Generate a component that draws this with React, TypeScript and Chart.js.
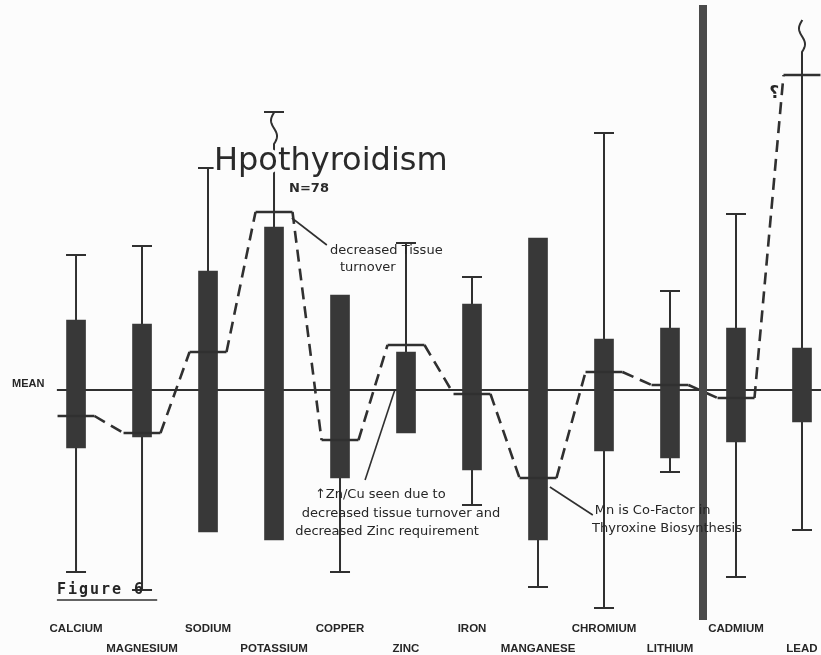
import React, { useEffect, useRef } from "react";
import { Chart, registerables } from "chart.js";

Chart.register(...registerables);

// ---- data (relative deviation units; 0 = MEAN) ----
const categories = [
  "CALCIUM", "MAGNESIUM", "SODIUM", "POTASSIUM", "COPPER", "ZINC",
  "IRON", "MANGANESE", "CHROMIUM", "LITHIUM", "CADMIUM", "LEAD",
];
const barHigh = [14, 13.2, 23.8, 32.6, 19, 7.6, 17.2, 30.4, 10.2, 12.4, 12.4, 8.4];
const barLow = [-11.6, -9.4, -28.4, -30, -17.6, -8.6, -16, -30, -12.2, -13.6, -10.4, -6.4];
const whiskerHigh = [27, 28.8, 44.4, 55.6, null, 29.4, 22.6, null, 51.4, 19.8, 35.2, 74];
const whiskerLow = [-36.4, -40, null, null, -36.4, null, -23, -39.4, -43.6, -16.4, -37.4, -28];
const meanLevel = [-5.2, -8.6, 7.6, 35.6, -10, 9, -0.8, -17.6, 3.6, 1, -1.6, 63];
const brokenTop = [false, false, false, true, false, false, false, false, false, false, false, true];
const capTop = [true, true, true, true, false, true, true, false, true, true, true, false];

const INK = "#303030";
const BAR = "#383838";
const PAPER = "#fcfcfc";

function wavy(ctx: CanvasRenderingContext2D, x: number, yBottom: number, yTop: number, waveLen: number) {
  ctx.beginPath();
  ctx.moveTo(x, yBottom);
  const startWave = yTop + waveLen;
  if (yBottom > startWave) ctx.lineTo(x, startWave);
  const from = Math.min(yBottom, startWave);
  const n = Math.max(1, Math.ceil(from - yTop));
  for (let k = 1; k <= n; k++) {
    const y = from - ((from - yTop) * k) / n;
    const d = from - y;
    ctx.lineTo(x + 3 * Math.sin(d / 5), y);
  }
  ctx.stroke();
}

const figurePlugin = {
  id: "figure",
  beforeDraw(chart: any) {
    const { ctx } = chart;
    ctx.save();
    ctx.fillStyle = PAPER;
    ctx.fillRect(0, 0, chart.width, chart.height);
    ctx.restore();
  },
  beforeDatasetsDraw(chart: any) {
    const { ctx } = chart;
    const xs = chart.scales.x;
    const ys = chart.scales.y;
    const y0 = ys.getPixelForValue(0);
    ctx.save();
    ctx.strokeStyle = INK;
    ctx.lineWidth = 2;
    // MEAN reference line
    ctx.beginPath();
    ctx.moveTo(xs.getPixelForValue(-0.29), y0);
    ctx.lineTo(chart.width, y0);
    ctx.stroke();
    // whiskers
    const capHalf = 10;
    categories.forEach((_, i) => {
      const x = xs.getPixelForValue(i);
      const hi = whiskerHigh[i];
      if (hi != null) {
        const yt = ys.getPixelForValue(hi);
        const yb = ys.getPixelForValue(barHigh[i]);
        if (brokenTop[i]) {
          wavy(ctx, x, yb, yt, 32);
        } else {
          ctx.beginPath();
          ctx.moveTo(x, yb);
          ctx.lineTo(x, yt);
          ctx.stroke();
        }
        if (capTop[i]) {
          ctx.beginPath();
          ctx.moveTo(x - capHalf, yt);
          ctx.lineTo(x + capHalf, yt);
          ctx.stroke();
        }
      }
      const lo = whiskerLow[i];
      if (lo != null) {
        const yt = ys.getPixelForValue(barLow[i]);
        const yb = ys.getPixelForValue(lo);
        ctx.beginPath();
        ctx.moveTo(x, yt);
        ctx.lineTo(x, yb);
        ctx.moveTo(x - capHalf, yb);
        ctx.lineTo(x + capHalf, yb);
        ctx.stroke();
      }
    });
    ctx.restore();
  },
  afterDatasetsDraw(chart: any) {
    const { ctx } = chart;
    const xs = chart.scales.x;
    const ys = chart.scales.y;
    const P = (xv: number, yv: number) => [xs.getPixelForValue(xv), ys.getPixelForValue(yv)];
    ctx.save();

    // thick separator between Lithium and Cadmium
    {
      const x = xs.getPixelForValue(9.5);
      const yt = ys.getPixelForValue(77);
      const yb = ys.getPixelForValue(-46);
      ctx.fillStyle = "#4a4a4a";
      ctx.fillRect(x - 4, yt, 8, yb - yt);
    }

    ctx.fillStyle = INK;
    ctx.strokeStyle = INK;

    // Title with paper halo
    {
      const [x, y] = P(3.86, 44);
      ctx.font = '32px "DejaVu Sans"';
      ctx.textAlign = "center";
      ctx.textBaseline = "alphabetic";
      ctx.lineWidth = 7;
      ctx.strokeStyle = PAPER;
      ctx.strokeText("Hpothyroidism", x, y);
      ctx.fillStyle = "#2a2a2a";
      ctx.fillText("Hpothyroidism", x, y);
      const [nx, ny] = P(3.53, 39.6);
      ctx.font = 'bold 13px "DejaVu Sans"';
      ctx.strokeText("N=78", nx, ny);
      ctx.fillText("N=78", nx, ny);
    }

    ctx.strokeStyle = INK;
    ctx.fillStyle = "#262626";
    ctx.lineWidth = 1.6;
    ctx.textAlign = "left";
    ctx.font = '13px "DejaVu Sans"';
    const text = (s: string, xv: number, yv: number) => {
      const [x, y] = P(xv, yv);
      ctx.fillText(s, x, y);
    };
    const line = (x1: number, y1: number, x2: number, y2: number) => {
      const [a, b] = P(x1, y1);
      const [c, d] = P(x2, y2);
      ctx.beginPath();
      ctx.moveTo(a, b);
      ctx.lineTo(c, d);
      ctx.stroke();
    };

    text("decreased Tissue", 3.85, 27.2);
    text("turnover", 4.0, 23.8);
    line(3.27, 34.4, 3.8, 29);

    text("\u2191Zn/Cu seen due to", 3.62, -21.6);
    text("decreased tissue turnover and", 3.42, -25.4);
    text("decreased Zinc requirement", 3.32, -29);
    line(4.83, 0, 4.38, -18);

    text("Mn is Co-Factor in", 7.86, -24.8);
    text("Thyroxine Biosynthesis", 7.82, -28.4);
    line(7.18, -19.4, 7.83, -25);

    // mirrored question mark near Lead
    {
      const [x, y] = P(10.58, 58.5);
      ctx.save();
      ctx.translate(x, y);
      ctx.scale(-1, 1);
      ctx.font = 'bold 17px "DejaVu Sans"';
      ctx.textAlign = "center";
      ctx.fillText("?", 0, 0);
      ctx.restore();
    }

    // MEAN label
    ctx.font = 'bold 11px "Liberation Sans"';
    text("MEAN", -0.97, 0.6);

    // Figure 6
    {
      ctx.font = 'bold 15px "DejaVu Sans Mono"';
      (ctx as any).letterSpacing = "2px";
      text("Figure 6", -0.29, -40.8);
      (ctx as any).letterSpacing = "0px";
      ctx.lineWidth = 1.5;
      line(-0.29, -42, 1.23, -42);
    }

    // category labels in two staggered rows
    ctx.font = 'bold 11.5px "Liberation Sans"';
    ctx.textAlign = "center";
    categories.forEach((c, i) => {
      const [x] = P(i, 0);
      const y = ys.getPixelForValue(i % 2 === 0 ? -48.4 : -52.4);
      ctx.fillText(c, x, y);
    });

    ctx.restore();
  },
};

export default function App() {
  const ref = useRef<HTMLCanvasElement | null>(null);
  useEffect(() => {
    if (!ref.current) return;
    const chart = new Chart(ref.current, {
      type: "bar",
      data: {
        datasets: [
          {
            type: "line",
            label: "mean",
            data: meanLevel.flatMap((m, i) => [
              { x: i - 0.28, y: m },
              { x: i + 0.28, y: m },
            ]),
            borderColor: INK,
            borderWidth: 2.6,
            pointRadius: 0,
            fill: false,
            tension: 0,
            order: 0,
            segment: {
              borderDash: (c: any) => (c.p0DataIndex % 2 === 1 ? [12, 7] : undefined),
            },
          } as any,
          {
            type: "bar",
            label: "range",
            data: categories.map((_, i) => ({ x: i, y: [barLow[i], barHigh[i]] })) as any,
            backgroundColor: BAR,
            borderWidth: 0,
            barThickness: 19,
            grouped: false,
            order: 1,
          } as any,
        ],
      },
      options: {
        animation: false,
        responsive: false,
        devicePixelRatio: 1,
        layout: { padding: 0 },
        plugins: { legend: { display: false }, tooltip: { enabled: false } },
        scales: {
          x: { type: "linear", min: -1.152, max: 11.288, display: false, offset: false },
          y: { type: "linear", min: -53, max: 78, display: false },
        },
      },
      plugins: [figurePlugin],
    });
    return () => chart.destroy();
  }, []);
  return (
    <div style={{ position: "fixed", left: 0, top: 0, width: 821, height: 655, background: PAPER }}>
      <canvas ref={ref} width={821} height={655} style={{ display: "block" }} />
    </div>
  );
}
